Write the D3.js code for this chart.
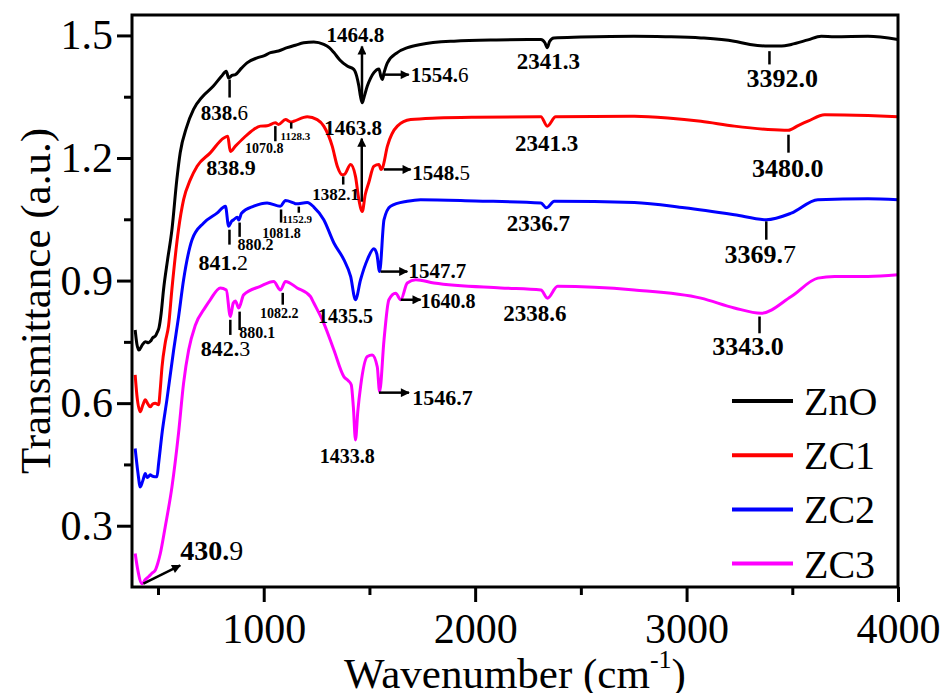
<!DOCTYPE html>
<html><head><meta charset="utf-8">
<script src="https://cdn.jsdelivr.net/npm/d3@7"></script>
<style>body{margin:0;background:#fff}svg{display:block}
svg text{font-family:"Liberation Serif","Times New Roman",Times,serif;}</style>
</head><body><svg id="chart" width="943" height="693"></svg>
<script>
const seriesNames = ["ZnO","ZC1","ZC2","ZC3"];
const seriesColors = ["#000000","#ff0000","#0000ff","#ff00ff"];

const ZnO = [[392,0.779],[400,0.745],[410,0.730],[425,0.742],[440,0.750],[455,0.748],[465,0.752],[475,0.760],[487,0.764],[495,0.772],[505,0.785],[515,0.82],[526,0.877],[545,0.95],[566,1.025],[589,1.147],[605,1.213],[635,1.275],[668,1.319],[710,1.350],[762,1.376],[800,1.400],[823,1.4125],[834,1.396],[850,1.402],[866,1.404],[895,1.420],[921,1.433],[969,1.445],[1000,1.450],[1032,1.458],[1070,1.462],[1111,1.470],[1150,1.476],[1189,1.482],[1237,1.484],[1284,1.478],[1310,1.470],[1332,1.458],[1360,1.440],[1395,1.425],[1426,1.417],[1440,1.400],[1450,1.376],[1458,1.350],[1466,1.335],[1475,1.350],[1490,1.376],[1505,1.395],[1521,1.409],[1545,1.418],[1554,1.400],[1561,1.392],[1570,1.410],[1585,1.433],[1632,1.458],[1680,1.470],[1742,1.478],[1900,1.486],[2100,1.489],[2311,1.490],[2330,1.482],[2341,1.470],[2352,1.485],[2372,1.494],[2500,1.496],[2751,1.498],[2900,1.497],[3068,1.494],[3225,1.486],[3300,1.478],[3385,1.474],[3450,1.474],[3495,1.478],[3574,1.489],[3637,1.498],[3700,1.497],[3858,1.498],[4000,1.490]];

const ZC1 = [[392,0.669],[400,0.62],[416,0.579],[428,0.595],[440,0.608],[452,0.598],[463,0.591],[475,0.598],[487,0.600],[503,0.596],[510,0.63],[519,0.689],[535,0.75],[550,0.79],[566,0.88],[597,1.025],[621,1.098],[653,1.147],[685,1.180],[747,1.2125],[811,1.249],[830,1.253],[842,1.216],[866,1.229],[905,1.249],[953,1.270],[984,1.278],[1016,1.279],[1055,1.286],[1070,1.282],[1103,1.294],[1128,1.288],[1142,1.290],[1206,1.301],[1253,1.294],[1284,1.278],[1324,1.229],[1348,1.18],[1371,1.159],[1382,1.16],[1411,1.184],[1434,1.155],[1450,1.098],[1466,1.069],[1480,1.11],[1497,1.14],[1521,1.180],[1545,1.184],[1555,1.172],[1561,1.175],[1585,1.229],[1632,1.278],[1695,1.294],[1821,1.298],[2000,1.300],[2311,1.301],[2341,1.278],[2381,1.301],[2753,1.302],[2911,1.298],[3068,1.290],[3226,1.278],[3385,1.270],[3480,1.268],[3530,1.28],[3574,1.290],[3653,1.306],[3858,1.304],[4000,1.301]];

const ZC2 = [[392,0.489],[405,0.43],[416,0.395],[428,0.41],[440,0.428],[448,0.418],[455,0.420],[463,0.425],[471,0.422],[485,0.42],[495,0.420],[503,0.453],[520,0.53],[542,0.608],[574,0.730],[597,0.81],[621,0.902],[661,1.0],[716,1.041],[779,1.065],[819,1.082],[834,1.033],[848,1.045],[858,1.049],[875,1.055],[882,1.048],[895,1.065],[953,1.082],[1016,1.090],[1079,1.082],[1103,1.096],[1142,1.090],[1153,1.088],[1206,1.091],[1237,1.080],[1284,1.049],[1332,0.992],[1379,0.951],[1411,0.910],[1434,0.853],[1458,0.902],[1490,0.951],[1521,0.978],[1535,0.965],[1548,0.922],[1569,1.049],[1600,1.082],[1679,1.094],[1742,1.098],[2000,1.095],[2311,1.090],[2337,1.078],[2374,1.094],[2753,1.091],[2990,1.078],[3226,1.061],[3377,1.049],[3495,1.065],[3621,1.098],[3858,1.100],[4000,1.098]];

const ZC3 = [[392,0.232],[405,0.19],[424,0.158],[440,0.168],[455,0.175],[470,0.183],[487,0.191],[500,0.21],[511,0.232],[534,0.297],[566,0.395],[597,0.526],[621,0.649],[645,0.730],[676,0.79],[724,0.835],[747,0.853],[795,0.882],[823,0.877],[842,0.812],[856,0.845],[866,0.850],[882,0.833],[905,0.865],[984,0.886],[1047,0.898],[1079,0.877],[1103,0.898],[1158,0.882],[1221,0.861],[1237,0.845],[1284,0.796],[1332,0.730],[1379,0.665],[1400,0.655],[1414,0.645],[1424,0.590],[1434,0.510],[1445,0.580],[1458,0.640],[1490,0.714],[1513,0.718],[1537,0.689],[1548,0.628],[1569,0.755],[1592,0.853],[1624,0.869],[1648,0.853],[1679,0.894],[1719,0.902],[1805,0.894],[2121,0.882],[2311,0.877],[2342,0.857],[2390,0.886],[2753,0.877],[3068,0.857],[3226,0.833],[3352,0.820],[3495,0.861],[3621,0.906],[3700,0.910],[3858,0.910],[4000,0.914]];

const seriesValues = [ZnO, ZC1, ZC2, ZC3];

const xTicks = [1000,2000,3000,4000];
const xMinorTicks = [500,1500,2500,3500];
const yTicks = [0.3,0.6,0.9,1.2,1.5];
const yMinorTicks = [0.45,0.75,1.05,1.35];

// peak labels: text, regular-weight tail, wavenumber, transmittance, size, anchor
const peakLabels = [
 ["838.","6",814,1.294,21,"middle"],["1464.8","",1434,1.483,21,"middle"],["1554.","6",1695,1.387,21,"start"],
 ["2341.3","",2346,1.417,23,"middle"],["3392.0","",3452,1.373,26,"middle"],
 ["838.9","",845,1.159,22,"middle"],["1070.8","",1003,1.213,14,"middle"],["1128.3","",1150,1.245,11,"middle"],
 ["1463.8","",1423,1.257,21,"middle"],["1382.1","",1340,1.098,17,"middle"],["1548.","5",1703,1.147,21,"start"],
 ["2341.3","",2338,1.2164,23,"middle"],["3480.0","",3479,1.154,26,"middle"],
 ["841.","2",809,0.9265,22,"middle"],["880.2","",961,0.9755,16,"middle"],["1081.8","",1084,1.005,14,"middle"],
 ["1152.9","",1158,1.042,11,"middle"],["1435.5","",1387,0.7966,20,"middle"],["1547.7","",1685,0.907,21,"start"],
 ["2336.7","",2299,1.0203,23,"middle"],["3369.","7",3348,0.944,26,"middle"],
 ["842.","3",819,0.716,22,"middle"],["880.1","",969,0.760,16,"middle"],["1082.2","",1074,0.809,14,"middle"],
 ["1433.8","",1395,0.4534,20,"middle"],["1546.7","",1703,0.5956,22,"start"],["1640.8","",1742,0.8333,20,"start"],
 ["2338.6","",2282,0.8,23,"middle"],["3343.0","",3291,0.718,26,"middle"],["430.","9",605,0.2157,28,"start"]
];
// marker ticks: wavenumber, y1, y2
const peakTicks = [
 [838.6,1.392,1.348],[3392,1.4615,1.429],
 [1055,1.278,1.241],[1130,1.287,1.272],[1376,1.155,1.135],[3482,1.257,1.213],
 [838,1.0245,0.988],[886,1.042,1.007],[1082,1.074,1.042],[1166,1.081,1.066],[3377,1.045,1.0],
 [842,0.804,0.767],[886,0.824,0.779],[1090,0.870,0.841],[3345,0.812,0.771]
];
// arrows: x1,y1,x2,y2 (wavenumber, transmittance)
const peakArrows = [
 [1464.8,1.343,1464.8,1.473],[1562,1.404,1686,1.404],
 [1463.8,1.093,1463.8,1.2475],[1568,1.172,1695,1.172],
 [1553,0.922,1679,0.922],
 [1545,0.6257,1687,0.6257],[1648,0.853,1742,0.853],[431,0.158,605,0.203]
];

const L = 132, R = 898, T = 15, B = 587;

const svg = d3.select("#chart");
const x = d3.scaleLinear().domain([377,4000]).range([L,R]);
const y = d3.scaleLinear().domain([0.15,1.55]).range([B,T]);

const defs = svg.append("defs");
defs.append("marker").attr("id","ah").attr("viewBox","0 0 10 10").attr("refX",9).attr("refY",5)
  .attr("markerWidth",12).attr("markerHeight",9).attr("markerUnits","userSpaceOnUse").attr("orient","auto")
  .append("path").attr("d","M0,0 L10,5 L0,10 Z").attr("fill","#000");
defs.append("clipPath").attr("id","clip").append("rect").attr("x",L).attr("y",T).attr("width",R-L).attr("height",B-T);

const line = d3.line().x(d=>x(d[0])).y(d=>y(d[1])).curve(d3.curveMonotoneX);
const gl = svg.append("g").attr("clip-path","url(#clip)");
seriesValues.forEach((s,i)=>{
  gl.append("path").attr("d",line(s)).attr("fill","none").attr("stroke",seriesColors[i])
    .attr("stroke-width",3).attr("stroke-linejoin","round");
});

const ga = svg.append("g");
peakTicks.forEach(t=>{
  ga.append("line").attr("x1",x(t[0])).attr("x2",x(t[0])).attr("y1",y(t[1])).attr("y2",y(t[2]))
    .attr("stroke","#000").attr("stroke-width",2.5);
});
peakArrows.forEach(a=>{
  ga.append("line").attr("x1",x(a[0])).attr("y1",y(a[1])).attr("x2",x(a[2])).attr("y2",y(a[3]))
    .attr("stroke","#000").attr("stroke-width",2.5).attr("marker-end","url(#ah)");
});
peakLabels.forEach(p=>{
  const t = ga.append("text").attr("x",x(p[2])).attr("y",y(p[3])).attr("text-anchor",p[5])
    .attr("font-size",p[4]).attr("font-weight","bold").attr("fill","#000");
  t.append("tspan").text(p[0]);
  if (p[1]) t.append("tspan").attr("font-weight","normal").text(p[1]);
});

const fmtY = d3.format(".1f");
const gx = svg.append("g").attr("transform",`translate(0,${B})`)
  .call(d3.axisBottom(x).tickValues(xTicks).tickSize(15).tickPadding(11).tickFormat(d3.format("d")));
const gxm = svg.append("g").attr("transform",`translate(0,${B})`)
  .call(d3.axisBottom(x).tickValues(xMinorTicks).tickSize(8).tickFormat(""));
const gy = svg.append("g").attr("transform",`translate(${L},0)`)
  .call(d3.axisLeft(y).tickValues(yTicks).tickSize(15).tickPadding(4).tickFormat(fmtY));
const gym = svg.append("g").attr("transform",`translate(${L},0)`)
  .call(d3.axisLeft(y).tickValues(yMinorTicks).tickSize(8).tickFormat(""));
[gx,gxm,gy,gym].forEach(g=>{
  g.attr("font-family",null);
  g.select(".domain").remove();
  g.selectAll(".tick line").attr("stroke","#000").attr("stroke-width",3);
  g.selectAll("text").attr("font-size",42).attr("fill","#000");
});

svg.append("rect").attr("x",L).attr("y",T).attr("width",R-L).attr("height",B-T)
  .attr("fill","none").attr("stroke","#000").attr("stroke-width",3);

const xt = svg.append("text").attr("x",(L+R)/2).attr("y",688).attr("text-anchor","middle")
  .attr("font-size",43).attr("fill","#000");
xt.append("tspan").text("Wavenumber (cm");
xt.append("tspan").attr("font-size",26).attr("dy",-20).text("-1");
xt.append("tspan").attr("dy",20).text(")");

svg.append("text").attr("transform",`translate(50,${(T+B)/2}) rotate(-90)`).attr("text-anchor","middle")
  .attr("font-size",43).attr("fill","#000").text("Transmittance (a.u.)");

const lg = svg.append("g");
seriesNames.forEach((n,i)=>{
  const yy = 401 + i*54.2;
  lg.append("line").attr("x1",732).attr("x2",793).attr("y1",yy).attr("y2",yy)
    .attr("stroke",seriesColors[i]).attr("stroke-width",4);
  lg.append("text").attr("x",804).attr("y",yy+14).attr("font-size",40)
    .attr("fill","#000").text(n);
});
</script></body></html>
